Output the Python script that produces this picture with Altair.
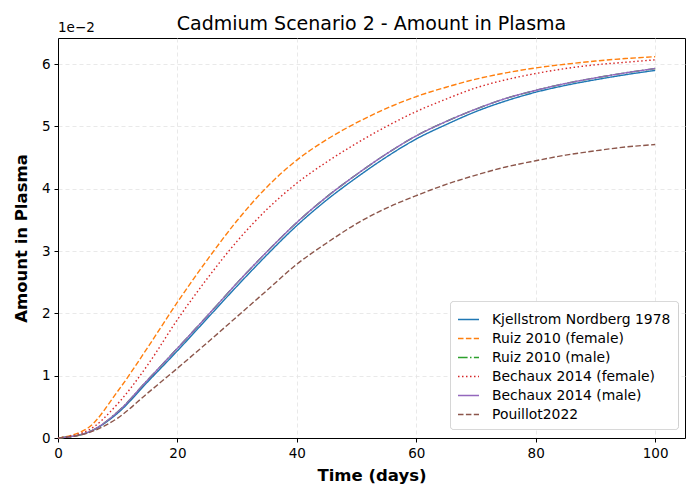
import altair as alt
import pandas as pd

days = [0, 5, 10, 15, 20, 25, 30, 35, 40, 45, 50, 55, 60, 65, 70, 75, 80, 85, 90, 95, 100]

kjellstrom = [0, 0.09, 0.40, 0.90, 1.40, 1.92, 2.44, 2.94, 3.41, 3.82, 4.18, 4.51, 4.80, 5.03, 5.24, 5.41, 5.55, 5.66, 5.75, 5.83, 5.90]
ruiz_female = [0, 0.16, 0.75, 1.45, 2.18, 2.86, 3.49, 4.03, 4.46, 4.79, 5.06, 5.29, 5.48, 5.63, 5.76, 5.86, 5.94, 6.00, 6.05, 6.09, 6.12]
ruiz_male = [0, 0.09, 0.42, 0.93, 1.44, 1.96, 2.49, 2.99, 3.46, 3.87, 4.23, 4.56, 4.85, 5.08, 5.28, 5.45, 5.58, 5.69, 5.78, 5.86, 5.93]
bechaux_female = [0, 0.12, 0.55, 1.17, 1.90, 2.56, 3.16, 3.67, 4.09, 4.43, 4.73, 5.00, 5.24, 5.44, 5.62, 5.75, 5.85, 5.93, 5.99, 6.03, 6.07]
bechaux_male = [0, 0.09, 0.42, 0.93, 1.44, 1.96, 2.49, 2.99, 3.46, 3.87, 4.23, 4.56, 4.85, 5.08, 5.28, 5.45, 5.58, 5.69, 5.78, 5.86, 5.93]
pouillot = [0, 0.08, 0.32, 0.72, 1.12, 1.53, 1.95, 2.37, 2.79, 3.13, 3.44, 3.69, 3.89, 4.07, 4.22, 4.35, 4.45, 4.54, 4.61, 4.67, 4.71]

series_names = ["Kjellstrom Nordberg 1978", "Ruiz 2010 (female)", "Ruiz 2010 (male)",
                "Bechaux 2014 (female)", "Bechaux 2014 (male)", "Pouillot2022"]
series_values = [kjellstrom, ruiz_female, ruiz_male, bechaux_female, bechaux_male, pouillot]
colors = ["#1f77b4", "#ff7f0e", "#2ca02c", "#d62728", "#9467bd", "#8c564b"]
dashes = [[1, 0], [5.5, 2.4], [9.6, 2.4, 1.5, 2.4], [1.5, 2.5], [1, 0], [5.5, 2.4]]

rows = []
for name, vals in zip(series_names, series_values):
    for d, v in zip(days, vals):
        rows.append({"day": d, "value": v, "series": name})
df = pd.DataFrame(rows)

FONT = "DejaVu Sans"

lines = alt.Chart(df).mark_line(strokeWidth=1.4, interpolate="monotone").encode(
    x=alt.X("day:Q", scale=alt.Scale(domain=[0, 105], nice=False, zero=False),
            axis=alt.Axis(values=[0, 20, 40, 60, 80, 100], title="Time (days)",
                          titleFontSize=16.5, titleFontWeight="bold", titlePadding=8,
                          labelFontSize=13.5, labelPadding=4, labelFlush=False)),
    y=alt.Y("value:Q", scale=alt.Scale(domain=[0, 6.42], nice=False),
            axis=alt.Axis(values=[0, 1, 2, 3, 4, 5, 6], title="Amount in Plasma",
                          titleFontSize=16.5, titleFontWeight="bold", titlePadding=12,
                          labelFontSize=13.5, labelPadding=4, labelFlush=False)),
    color=alt.Color("series:N", sort=series_names,
                    scale=alt.Scale(domain=series_names, range=colors),
                    legend=alt.Legend(title=None, orient="none", legendX=392, legendY=263,
                                      symbolType="stroke", symbolSize=441, symbolStrokeWidth=1.4,
                                      labelFontSize=13.9, labelFont=FONT, rowPadding=0,
                                      labelLimit=400,
                                      padding=7, fillColor="white", strokeColor="#cccccc",
                                      cornerRadius=3, labelOffset=12)),
    strokeDash=alt.StrokeDash("series:N", sort=series_names,
                              scale=alt.Scale(domain=series_names, range=dashes),
                              legend=None),
)

exp_label = alt.Chart(pd.DataFrame({"t": ["1e\u22122"]})).mark_text(
    align="left", baseline="bottom", fontSize=13.5, font=FONT, color="black"
).encode(x=alt.value(0), y=alt.value(-3), text="t:N")

chart = alt.layer(lines, exp_label).properties(
    width=627, height=400,
    title=alt.Title("Cadmium Scenario 2 - Amount in Plasma", fontSize=19,
                    fontWeight="normal", font=FONT, offset=-13),
    autosize=alt.AutoSizeParams(type="none"),
    padding={"left": 50, "top": 30, "right": 7, "bottom": 54},
).configure_view(stroke="black", strokeWidth=1).configure_axis(
    domainColor="black", tickColor="black", labelColor="black", titleColor="black",
    gridColor="#e3e3e3", gridDash=[4, 3], gridWidth=0.8, tickSize=4,
    labelFont=FONT, titleFont=FONT
).configure_legend(strokeDash=[1, 0])

chart.save("out.html", embed_options={"renderer": "svg", "actions": False})
